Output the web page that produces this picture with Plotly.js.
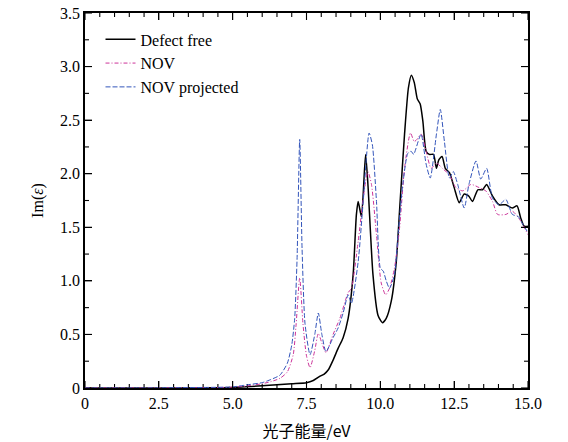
<!DOCTYPE html>
<html>
<head>
<meta charset="utf-8">
<script src="https://cdn.plot.ly/plotly-3.0.1.min.js"></script>
<style>html,body{margin:0;padding:0;background:#fff}#chart{width:568px;height:442px}</style>
</head>
<body>
<div id="chart"></div>
<script>
// Defect free
const energyFree = [0, 2, 4, 5, 6, 6.5, 7.0, 7.5, 7.73, 7.96, 8.1, 8.24, 8.4, 8.57, 8.74, 8.91, 9.08, 9.19, 9.25, 9.36, 9.5, 9.58, 9.75, 9.92, 10.07, 10.2, 10.37, 10.54, 10.67, 10.82, 10.95, 11.05, 11.15, 11.25, 11.35, 11.44, 11.55, 11.66, 11.8, 11.9, 11.98, 12.09, 12.2, 12.34, 12.5, 12.67, 12.84, 13.0, 13.12, 13.3, 13.46, 13.6, 13.8, 14.02, 14.25, 14.47, 14.63, 14.75, 14.87, 15.0];
const imFree = [0, 0, 0.002, 0.005, 0.02, 0.03, 0.04, 0.05, 0.07, 0.11, 0.13, 0.17, 0.26, 0.37, 0.47, 0.65, 1.06, 1.62, 1.74, 1.60, 2.18, 1.9, 1.06, 0.68, 0.61, 0.65, 0.81, 1.18, 1.74, 2.37, 2.8, 2.92, 2.85, 2.7, 2.65, 2.49, 2.21, 2.18, 2.18, 2.05, 2.13, 2.16, 2.05, 2.01, 1.87, 1.73, 1.81, 1.79, 1.74, 1.85, 1.85, 1.9, 1.79, 1.71, 1.71, 1.68, 1.70, 1.59, 1.51, 1.51];

// NOV
const energyNOV = [0, 2, 4, 5, 5.5, 6.0, 6.3, 6.6, 6.85, 7.05, 7.15, 7.27, 7.38, 7.5, 7.62, 7.78, 7.9, 8.02, 8.16, 8.4, 8.63, 8.91, 9.02, 9.25, 9.47, 9.58, 9.7, 9.87, 10.03, 10.18, 10.31, 10.48, 10.65, 10.82, 11.02, 11.15, 11.24, 11.38, 11.55, 11.72, 11.9, 12.1, 12.34, 12.56, 12.79, 13.07, 13.35, 13.57, 13.8, 13.97, 14.25, 14.47, 14.75, 15.0];
const imNOV = [0, 0, 0.003, 0.008, 0.02, 0.04, 0.06, 0.09, 0.15, 0.31, 0.6, 1.03, 0.6, 0.3, 0.19, 0.35, 0.51, 0.42, 0.33, 0.5, 0.65, 0.89, 0.93, 1.37, 1.87, 2.02, 1.9, 1.43, 0.98, 0.87, 0.93, 1.12, 1.49, 2.05, 2.38, 2.30, 2.32, 2.37, 2.21, 2.05, 2.10, 2.05, 1.99, 1.87, 1.84, 1.9, 1.87, 1.84, 1.74, 1.62, 1.62, 1.65, 1.56, 1.43];

// NOV projected
const energyProj = [0, 2, 4, 5, 5.5, 6.0, 6.3, 6.6, 6.85, 7.0, 7.1, 7.18, 7.27, 7.35, 7.45, 7.62, 7.78, 7.9, 8.02, 8.16, 8.4, 8.57, 8.74, 8.91, 9.02, 9.25, 9.42, 9.62, 9.73, 9.87, 10.0, 10.1, 10.2, 10.31, 10.48, 10.6, 10.76, 10.93, 11.04, 11.13, 11.2, 11.38, 11.55, 11.69, 11.9, 12.03, 12.17, 12.34, 12.47, 12.62, 12.84, 13.0, 13.24, 13.4, 13.6, 13.8, 14.02, 14.25, 14.47, 14.67, 14.8, 15.0];
const imProj = [0, 0, 0.005, 0.01, 0.03, 0.05, 0.08, 0.12, 0.23, 0.4, 0.65, 1.2, 2.32, 1.3, 0.6, 0.31, 0.5, 0.7, 0.5, 0.34, 0.47, 0.56, 0.70, 0.87, 0.79, 1.18, 1.74, 2.38, 2.27, 1.74, 1.12, 1.09, 1.0, 0.93, 1.06, 1.43, 1.9, 2.19, 2.21, 2.18, 2.23, 2.37, 2.09, 1.96, 2.37, 2.60, 2.30, 1.96, 2.02, 1.9, 1.68, 1.9, 2.12, 1.95, 2.05, 1.77, 1.71, 1.76, 1.62, 1.60, 1.54, 1.45];

const seriesNames = ['Defect free', 'NOV', 'NOV projected'];
const xTickVals = [0, 2.5, 5, 7.5, 10, 12.5, 15];
const xTickText = ['0', '2.5', '5.0', '7.5', '10.0', '12.5', '15.0'];
const yTickVals = [0, 0.5, 1, 1.5, 2, 2.5, 3, 3.5];
const yTickText = ['0', '0.5', '1.0', '1.5', '2.0', '2.5', '3.0', '3.5'];
const xMinorStep = 0.5;
const yMinorStep = 0.25;

const serif = 'Liberation Serif, DejaVu Serif, serif';

const W = 568, H = 442, M = {l: 85, r: 40, t: 13, b: 54};
const plotW = W - M.l - M.r, plotH = H - M.t - M.b;
const xMin = xTickVals[0], xMax = xTickVals[xTickVals.length - 1];
const yMin = yTickVals[0], yMax = yTickVals[yTickVals.length - 1];
const majLen = 7, minLen = 4;

// Inside tick marks on all four sides, built from the tick arrays (null-separated segments)
const tickX = [], tickY = [];
const dyPerPx = (yMax - yMin) / plotH, dxPerPx = (xMax - xMin) / plotW;
function xTick(v, len) {
  tickX.push(v, v, null, v, v, null);
  tickY.push(yMin, yMin + len * dyPerPx, null, yMax, yMax - len * dyPerPx, null);
}
function yTick(v, len) {
  tickX.push(xMin, xMin + len * dxPerPx, null, xMax, xMax - len * dxPerPx, null);
  tickY.push(v, v, null, v, v, null);
}
xTickVals.forEach(v => xTick(v, majLen));
for (let i = 0; i < xTickVals.length - 1; i++) {
  for (let v = xTickVals[i] + xMinorStep; v < xTickVals[i + 1] - 1e-9; v += xMinorStep) xTick(v, minLen);
}
yTickVals.forEach(v => yTick(v, majLen));
for (let i = 0; i < yTickVals.length - 1; i++) {
  for (let v = yTickVals[i] + yMinorStep; v < yTickVals[i + 1] - 1e-9; v += yMinorStep) yTick(v, minLen);
}

const traces = [
  {x: tickX, y: tickY, mode: 'lines', showlegend: false, hoverinfo: 'skip', connectgaps: false,
   cliponaxis: false, line: {color: '#000000', width: 1.1}},
  {x: energyFree, y: imFree, name: seriesNames[0], mode: 'lines',
   line: {color: '#000000', width: 1.5, shape: 'spline', smoothing: 0.6}},
  {x: energyNOV, y: imNOV, name: seriesNames[1], mode: 'lines',
   line: {color: '#cc3399', width: 1, dash: '4px,2px,1px,2px', shape: 'spline', smoothing: 0.6}},
  {x: energyProj, y: imProj, name: seriesNames[2], mode: 'lines',
   line: {color: '#3355bb', width: 1, dash: '5px,2px', shape: 'spline', smoothing: 0.6}}
];

const axisCommon = {
  showline: true, linecolor: '#000', linewidth: 1.5, mirror: 'ticks',
  ticks: 'inside', ticklen: majLen, tickcolor: '#000', tickwidth: 1.1,
  showgrid: false, zeroline: false,
  tickfont: {family: serif, size: 16, color: '#000'}
};

const layout = {
  width: W, height: H,
  margin: M,
  paper_bgcolor: '#fff', plot_bgcolor: '#fff',
  showlegend: true,
  legend: {x: 0.035, y: 0.975, xanchor: 'left', yanchor: 'top', bgcolor: 'rgba(0,0,0,0)',
           font: {family: serif, size: 16, color: '#000'}, tracegroupgap: 0, itemwidth: 30},
  xaxis: Object.assign({}, axisCommon, {
    range: [xMin, xMax], tickvals: xTickVals, ticktext: xTickText,
    title: {text: '光子能量/eV', font: {family: 'Noto Sans CJK SC, sans-serif', size: 16, color: '#000'}}
  }),
  yaxis: Object.assign({}, axisCommon, {
    range: [yMin, yMax], tickvals: yTickVals, ticktext: yTickText,
    title: {text: 'Im(<i>ε</i>)', font: {family: serif, size: 16, color: '#000'}}
  })
};

Plotly.newPlot('chart', traces, layout, {displayModeBar: false});
</script>
</body>
</html>
